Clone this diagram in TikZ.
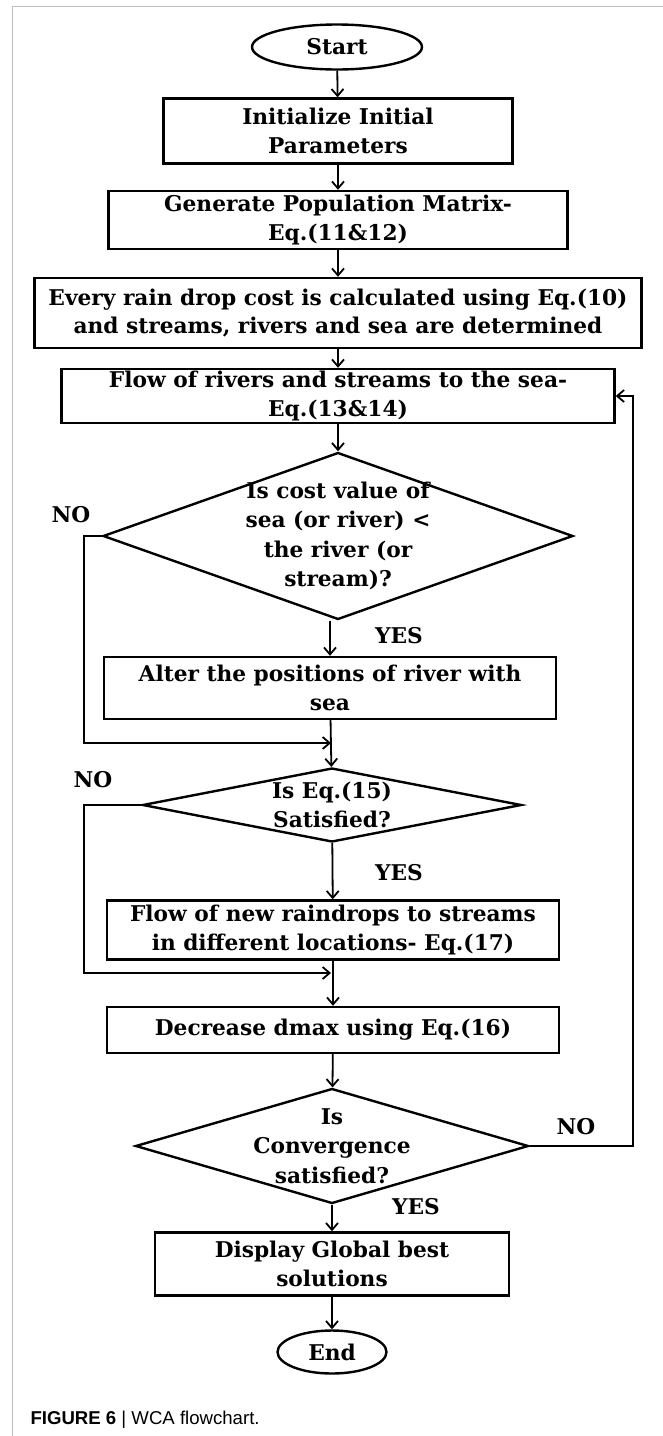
\documentclass[tikz,border=0pt]{standalone}
\usepackage{fontspec}
\setmainfont{DejaVu Serif}
\setsansfont{Liberation Sans}
\usetikzlibrary{shapes.geometric,arrows.meta}
\begin{document}
\begin{tikzpicture}[x=1pt,y=-1pt,
  box/.style={draw,line width=2.4pt,align=center,inner sep=0pt,font=\bfseries\fontsize{21.7}{28.5}\selectfont},
  term/.style={ellipse,draw,line width=2.4pt,inner sep=0pt,font=\bfseries\fontsize{21.7}{28.5}\selectfont},
  decision/.style={diamond,draw,line width=2.4pt,align=center,shape aspect=3,inner sep=-15pt,font=\bfseries\fontsize{21.7}{29.5}\selectfont},
  lbl/.style={font=\bfseries\fontsize{21.7}{26}\selectfont},
  arr/.style={-{Straight Barb[length=7pt,width=12pt]},line width=1.8pt}]
\useasboundingbox (0,0) rectangle (663,1436);
% frame
\draw[gray!50,line width=1.5pt] (12.7,1436) -- (12.7,6.7) -- (663,6.7);
% nodes
\node[term,minimum width=170,minimum height=45] (start) at (337,47) {Start};
\node[box,minimum width=349,minimum height=65] (init) at (338,131) {Initialize Initial\\Parameters};
\node[box,minimum width=459,minimum height=58] (gen) at (338,220) {Generate Population Matrix-\\Eq.(11\&12)};
\node[box,minimum width=607,minimum height=70] (every) at (338,313) {Every rain drop cost is calculated using Eq.(10)\\and streams, rivers and sea are determined};
\node[box,minimum width=553,minimum height=54] (flow) at (338,396) {Flow of rivers and streams to the sea-\\Eq.(13\&14)};
\node[decision,minimum width=470,minimum height=167] (cost) at (338,536) {Is cost value of\\sea (or river) <\\the river (or\\stream)?};
\node[box,minimum width=452,minimum height=62] (alter) at (330,688) {Alter the positions of river with\\sea};
\node[decision,minimum width=379,minimum height=74] (eqf) at (332,805) {Is Eq.(15)\\Satisfied?};
\node[box,minimum width=452,minimum height=59] (newdrop) at (333,930) {Flow of new raindrops to streams\\in different locations- Eq.(17)};
\node[box,minimum width=452,minimum height=46] (dec) at (333,1030) {Decrease dmax using Eq.(16)};
\node[decision,minimum width=393,minimum height=115] (conv) at (332,1146) {Is\\Convergence\\satisfied?};
\node[box,minimum width=354,minimum height=63] (disp) at (332,1264) {Display Global best\\solutions};
\node[term,minimum width=109,minimum height=43] (end) at (332,1352) {End};
\coordinate (mone) at (331,743);
\coordinate (mtwo) at (331,973);
% labels
\node[lbl] (noone) at (71,515) {NO};
\node[lbl] (yesone) at (399,636) {YES};
\node[lbl] (notwo) at (93,780) {NO};
\node[lbl] (yestwo) at (399,873) {YES};
\node[lbl] (nothree) at (576,1127) {NO};
\node[lbl] (yesthree) at (416,1207) {YES};
% arrows
\foreach \a/\b in {start/init,init/gen,gen/every,every/flow,flow/cost,alter/eqf,eqf/newdrop,newdrop/dec,dec/conv,conv/disp,disp/end}
  \draw[arr] (\a) -- (\b);
\draw[arr] (alter.north |- cost.south) -- (alter.north);
\draw[arr] (cost.west) -- ++(-18,0) |- (mone);
\draw[arr] (eqf.west) -- ++(-57,0) |- (mtwo);
\draw[arr] (conv.east) -- ++(103,0) |- (flow.east);
% caption
\node[anchor=west,font=\sffamily\fontsize{18.6}{21}\selectfont] (cap) at (27,1420) {\textbf{FIGURE 6} | WCA flowchart.};
\end{tikzpicture}
\end{document}
